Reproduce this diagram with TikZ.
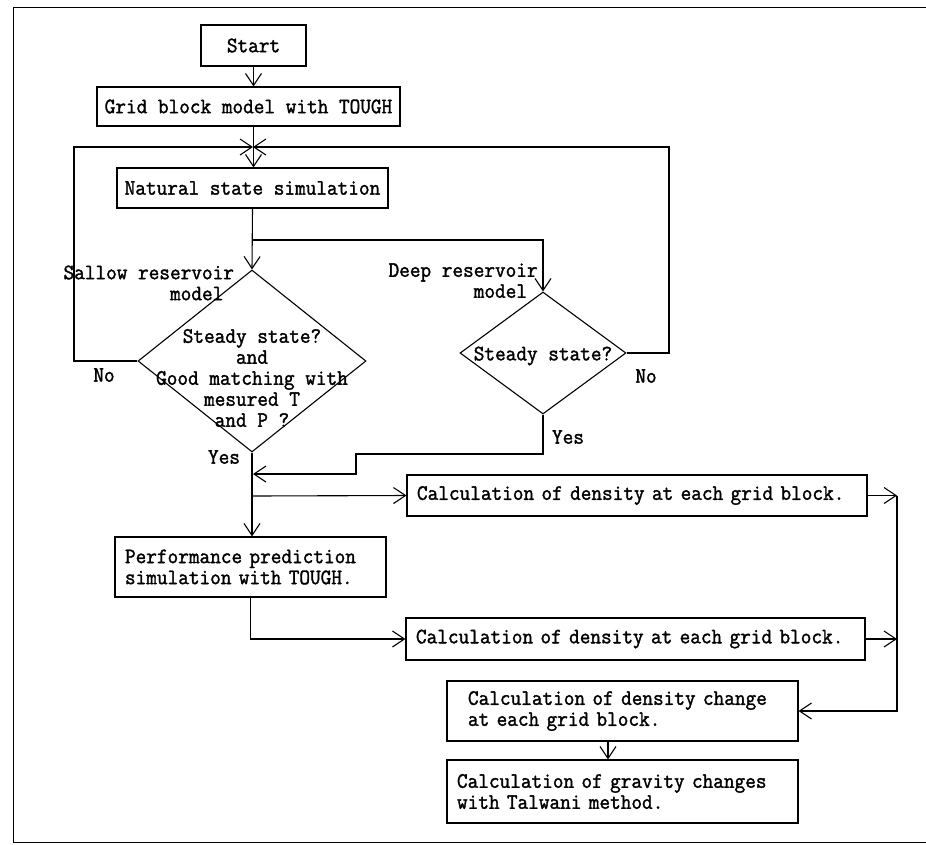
\documentclass[tikz,border=0pt]{standalone}
\usepackage{fontspec}
\setmonofont{Latin Modern Mono}[FakeStretch=0.94, FakeBold=1.6]
\usetikzlibrary{arrows.meta,shapes.geometric,calc}
\begin{document}
\begin{tikzpicture}[x=1pt,y=-1pt, line width=1.1pt,
  >={Straight Barb[length=12pt,width=16pt]},
  every node/.style={font=\ttfamily\fontsize{22}{21}\selectfont},
  box/.style={draw, rectangle, inner xsep=10pt, inner ysep=0pt, align=left},
  cbox/.style={draw, rectangle, inner sep=0pt, align=center},
  dia/.style={draw, diamond, inner sep=0pt},
  lbl/.style={inner sep=0pt, align=left}]
\useasboundingbox (0,0) rectangle (926,844);
% frame
\draw[line width=1pt] (926,7) -- (13,7) -- (13,842) -- (926,842);

% nodes
\node[cbox, minimum width=105pt, minimum height=41pt] (start) at (253.5,45.5) {Start};
\node[cbox, minimum width=303pt, minimum height=39pt] (grid) at (248.5,106.5) {Grid block model with TOUGH};
\node[cbox, minimum width=271pt, minimum height=40pt] (nat) at (252.5,188) {Natural state simulation};
\node[dia, minimum width=228pt, minimum height=182pt] (sd) at (252,361) {};
\node[dia, minimum width=166pt, minimum height=122pt] (dd) at (543,353) {};
\node[inner sep=0pt, align=center] (sdtext) at (252,378) {Steady state?\\and\\Good matching with\\mesured T\\and P ?};
\node[inner sep=0pt] (ddtext) at (543,356) {Steady state?};

\node[lbl, anchor=west] (sallow) at (63,283) {Sallow reservoir\\\phantom{Sallow res}model};
\node[lbl, anchor=west] (deep) at (388,283) {Deep reservoir\\\phantom{Deep res}model};
\node[inner sep=0pt] (no1) at (104,375) {No};
\node[inner sep=0pt] (no2) at (646,376) {No};
\node[inner sep=0pt] (yes1) at (224,457) {Yes};
\node[inner sep=0pt] (yes2) at (568,437) {Yes};

\node[box, text width=440pt, minimum height=41pt] (c1) at (637,495.5) {Calculation of density at each grid block.};
\node[box, text width=251pt, minimum height=60pt] (perf) at (250.5,567) {Performance prediction\\simulation with TOUGH.};
\node[box, text width=439pt, minimum height=42pt] (c2) at (635.5,639) {Calculation of density at each grid block.};
\node[box, inner xsep=21pt, text width=309pt, minimum height=60pt] (c3) at (622.5,711) {Calculation of density change\\at each grid block.};
\node[box, text width=331pt, minimum height=63pt] (c4) at (622.5,791.5) {Calculation of gravity changes\\with Talwani method.};

% coordinates
\coordinate (J) at (253,147);
\coordinate (LL) at (74,147);
\coordinate (RR) at (669,147);
\coordinate (B) at (252.5,240);
\coordinate (Y1) at (356,454);
\coordinate (Y2) at (253,474);
\coordinate (C1) at (253,496);
\coordinate (RX) at (897,711);

% connectors
\draw[->] (start.south) -- (start.south |- grid.north);
\draw[->] (grid.south -| start.south) -- (nat.north -| start.south);
\draw[->] (sd.west) -| (LL) -- (J);
\draw[->] (dd.east) -| (RR) -- (J);
\draw[->] (nat.south) -- (sd.north);
\draw[->] (B) -| (dd.north);
\draw[->] (sd.south) -- (perf.north -| sd.south);
\draw[->] (dd.south) |- (Y1) |- (Y2);
\draw[->] (C1) -- (c1.west);
\draw[->] (perf.south) |- (c2.west);
\draw[->] (c1.east) -- (c1.east -| RX);
\draw[->] (c2.east) -- (c2.east -| RX);
\draw[->] (c1.east -| RX) -- (RX) -- (c3.east);
\draw[->] ([xshift=-14.5pt]c3.south) -- ([xshift=-14.5pt]c4.north);
\end{tikzpicture}
\end{document}
